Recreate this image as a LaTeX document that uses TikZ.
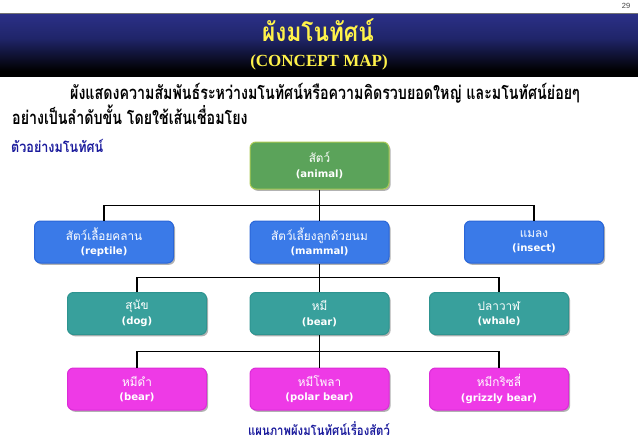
\documentclass[tikz,border=0pt]{standalone}
\usepackage{fontspec}
\usetikzlibrary{shadows}
\setmainfont{Liberation Serif}
\setsansfont{Liberation Sans}
\newfontfamily\thaiboxfont[Script=Thai,FakeStretch=0.98]{Loma}
\newfontfamily\thaibodyfont[Script=Thai,FakeStretch=0.77]{Loma}
\newfontfamily\thaititlefont[Script=Thai,FakeStretch=0.87]{Loma}
\newfontfamily\thaismallfont[Script=Thai,FakeStretch=0.84]{Loma}
\newfontfamily\latinbox{DejaVu Sans}
\definecolor{hdrtop}{HTML}{2B3087}
\definecolor{hdrmid}{HTML}{20256A}
\definecolor{titleyellow}{HTML}{FFF24A}
\definecolor{navytext}{HTML}{1A1A9C}
\definecolor{grnfill}{HTML}{5BA35A}
\definecolor{grnline}{HTML}{A9C952}
\definecolor{blufill}{HTML}{3A7AE8}
\definecolor{bluline}{HTML}{2A66D8}
\definecolor{tealfill}{HTML}{38A09C}
\definecolor{tealline}{HTML}{2E9490}
\definecolor{magfill}{HTML}{EE3AE6}
\definecolor{magline}{HTML}{DC2CD8}
\newcommand{\boxtext}[2]{{\thaiboxfont\fontsize{12}{13}\selectfont #1}\\[2.5pt]{\latinbox\bfseries\fontsize{10.1}{11}\selectfont #2}}
\tikzset{
  x=1pt,y=-1pt,
  conceptbox/.style={rounded corners=6pt,line width=1pt,minimum width=139pt,minimum height=42pt,
    align=center,text=white,inner sep=0pt,
    drop shadow={shadow xshift=1.6pt,shadow yshift=-1.8pt,fill=black!30,opacity=1}},
  greenbox/.style={conceptbox,fill=grnfill,draw=grnline,minimum height=47pt},
  bluebox/.style={conceptbox,fill=blufill,draw=bluline},
  tealbox/.style={conceptbox,fill=tealfill,draw=tealline},
  pinkbox/.style={conceptbox,fill=magfill,draw=magline},
  conn/.style={draw=black,line width=1.3pt},
  bodytext/.style={anchor=base west,inner sep=0pt,font=\thaibodyfont\bfseries\fontsize{18.5}{20}\selectfont,text=black},
}
\begin{document}
\begin{tikzpicture}
\useasboundingbox (0,0) rectangle (638,442);
% header band
\fill[black!55] (0,12.5) rectangle (638,14);
\shade[top color=hdrtop,bottom color=hdrmid] (0,14) rectangle (638,38);
\shade[top color=hdrmid,bottom color=black] (0,38) rectangle (638,71);
\fill[black] (0,71) rectangle (638,77);
\node[inner sep=0pt,font=\sffamily\fontsize{7.5}{9}\selectfont,text=black!75] (pagenum) at (626,5.5) {29};
\node[inner sep=0pt,text=titleyellow,font=\thaititlefont\bfseries\fontsize{26}{28}\selectfont] (title) at (318,30) {ผังมโนทัศน์};
\node[inner sep=0pt,text=titleyellow,font=\rmfamily\bfseries\fontsize{17}{20}\selectfont] (subtitle) at (319,62) {(CONCEPT MAP)};
% body
\node[bodytext] (line1) at (70,99) {ผังแสดงความสัมพันธ์ระหว่างมโนทัศน์หรือความคิดรวบยอดใหญ่ และมโนทัศน์ย่อยๆ};
\node[bodytext] (line2) at (12,124) {อย่างเป็นลำดับขั้น โดยใช้เส้นเชื่อมโยง};
\node[bodytext,text=navytext,font=\thaismallfont\bfseries\fontsize{15}{17}\selectfont] (example) at (11,152) {ตัวอย่างมโนทัศน์};
\node[inner sep=0pt,text=navytext,font=\thaismallfont\bfseries\fontsize{13.5}{15}\selectfont] (caption) at (319,429) {แผนภาพผังมโนทัศน์เรื่องสัตว์};
% boxes
\node[greenbox] (animal) at (319.5,165.5) {\boxtext{สัตว์}{(animal)}};
\node[bluebox] (reptile) at (104,242) {\boxtext{สัตว์เลื้อยคลาน}{(reptile)}};
\node[bluebox] (mammal) at (319.5,242) {\boxtext{สัตว์เลี้ยงลูกด้วยนม}{(mammal)}};
\node[bluebox] (insect) at (534,242) {\boxtext{แมลง}{(insect)}};
\node[tealbox] (dog) at (137,313.5) {\boxtext{สุนัข}{(dog)}};
\node[tealbox] (bear) at (319.5,313.5) {\boxtext{หมี}{(bear)}};
\node[tealbox] (whale) at (499,313.5) {\boxtext{ปลาวาฬ}{(whale)}};
\node[pinkbox] (blackbear) at (137,389) {\boxtext{หมีดำ}{(bear)}};
\node[pinkbox] (polar) at (319.5,389) {\boxtext{หมีโพลา}{(polar bear)}};
\node[pinkbox] (grizzly) at (499,389) {\boxtext{หมีกริซลี่}{(grizzly bear)}};
% junctions
\coordinate (j1) at (319.5,205.5);
\coordinate (j2) at (319.5,277.5);
\coordinate (j3) at (319.5,351.5);
% connectors
\draw[conn] (animal.south) -- (mammal.north);
\draw[conn] (reptile.north) |- (j1) -| (insect.north);
\draw[conn] (mammal.south) -- (bear.north);
\draw[conn] (dog.north) |- (j2) -| (whale.north);
\draw[conn] (bear.south) -- (polar.north);
\draw[conn] (blackbear.north) |- (j3) -| (grizzly.north);
\end{tikzpicture}
\end{document}
